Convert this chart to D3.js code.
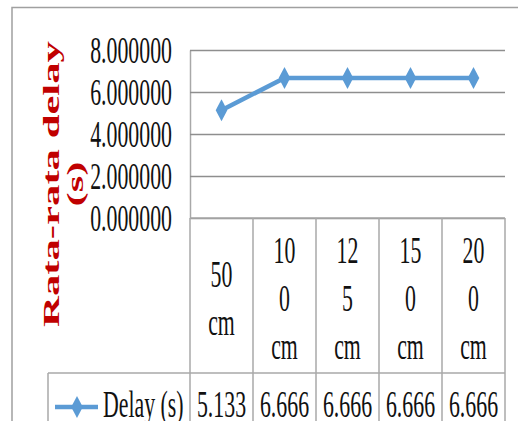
<!DOCTYPE html>
<html>
<head>
<meta charset="utf-8">
<script src="https://cdn.jsdelivr.net/npm/d3@7"></script>
<style>
  html, body { margin: 0; padding: 0; background: #fff; }
  svg { display: block; }
  text { font-family: "Liberation Serif", "Times New Roman", serif; }
</style>
</head>
<body>
<svg id="chart" width="518" height="421"></svg>
<script>
// Average delay per distance
const categories = ["50 cm", "100 cm", "125 cm", "150 cm", "200 cm"];
const categoryLines = [["50", "cm"], ["10", "0", "cm"], ["12", "5", "cm"], ["15", "0", "cm"], ["20", "0", "cm"]];
const delay = [5.133, 6.666, 6.666, 6.666, 6.666];
const tableValues = ["5.133", "6.666", "6.666", "6.666", "6.666"];
const yTicks = [0, 2, 4, 6, 8];
const seriesName = "Delay (s)";
const yTitle = ["Rata-rata delay", "(s)"];

const svg = d3.select("#chart");
const blue = "#5B9BD5";
const gridColor = "#8e8e8e";
const tableColor = "#a8a8a8";
const narrow = 0.59;   // horizontal squeeze of the serif labels

// compress text horizontally while keeping its height
function squeeze(sel, f) {
  sel.each(function () {
    const w = this.getComputedTextLength();
    d3.select(this).attr("textLength", w * f).attr("lengthAdjust", "spacingAndGlyphs");
  });
}

const plot = { left: 190, right: 505, top: 50, bottom: 218 };
const tableRow = 373;

const x = d3.scaleBand().domain(categories).range([plot.left, plot.right]);
const y = d3.scaleLinear().domain([0, 8]).range([plot.bottom, plot.top]);

// outer frame
svg.append("path")
  .attr("d", `M12,421 V7.5 H518`)
  .attr("fill", "none").attr("stroke", "#a0a0a0").attr("stroke-width", 1.5);

// value axis with gridlines
const yAxis = svg.append("g")
  .attr("transform", `translate(${plot.left},0)`)
  .call(d3.axisLeft(y).tickValues(yTicks).tickFormat(d3.format(".6f"))
    .tickSize(-(plot.right - plot.left)).tickSizeOuter(0).tickPadding(18));
yAxis.select(".domain").attr("stroke", tableColor).attr("stroke-width", 1.5);
yAxis.selectAll(".tick line").attr("stroke", gridColor).attr("stroke-width", 1.6);
yAxis.selectAll(".tick text")
  .attr("font-size", 37).attr("fill", "#111")
  .attr("dy", null).attr("y", 12);
squeeze(yAxis.selectAll(".tick text"), narrow);

// axis title
const title = svg.append("g").attr("fill", "#C00000")
  .attr("font-weight", "bold").attr("font-size", 24);
title.selectAll("text").data(yTitle).join("text")
  .attr("text-anchor", "middle")
  .attr("transform", (d, i) => `translate(${59 + i * 24},184) rotate(-90)`)
  .text(d => d)
  .call(squeeze, 1.78);

// data table grid
const grid = svg.append("g").attr("stroke", tableColor).attr("stroke-width", 1.5).attr("fill", "none");
const dividers = [plot.left].concat(categories.map(c => x(c) + x.bandwidth()));
grid.selectAll("line.v").data(dividers).join("line")
  .attr("x1", d => d).attr("x2", d => d)
  .attr("y1", plot.bottom).attr("y2", 421);
grid.append("line")
  .attr("x1", plot.left).attr("x2", plot.right)
  .attr("y1", plot.bottom).attr("y2", plot.bottom);
grid.append("line")
  .attr("x1", 48).attr("x2", plot.right)
  .attr("y1", tableRow).attr("y2", tableRow);
grid.append("line")
  .attr("x1", 48).attr("x2", 48)
  .attr("y1", tableRow).attr("y2", 421);

// category labels, wrapped inside the header cells
const cellMid = (plot.bottom + tableRow) / 2;
const lineH = 48;
categories.forEach((c, i) => {
  const lines = categoryLines[i];
  const n = lines.length;
  svg.append("g").selectAll("text").data(lines).join("text")
    .attr("x", x(c) + x.bandwidth() / 2)
    .attr("y", (d, j) => cellMid + (j - (n - 1) / 2) * lineH + 15)
    .attr("text-anchor", "middle").attr("font-size", 37).attr("fill", "#111")
    .text(d => d)
    .call(squeeze, narrow);
});

// values row
svg.append("g").selectAll("text").data(tableValues).join("text")
  .attr("x", (d, i) => x(categories[i]) + x.bandwidth() / 2)
  .attr("y", 417)
  .attr("text-anchor", "middle").attr("font-size", 37).attr("fill", "#111")
  .text(d => d)
  .call(squeeze, narrow);

// diamond marker
const diamond = (cx, cy) => `M${cx},${cy - 11}L${cx + 5.8},${cy}L${cx},${cy + 11}L${cx - 5.8},${cy}Z`;

// legend key
svg.append("line")
  .attr("x1", 55).attr("x2", 98).attr("y1", 407).attr("y2", 407)
  .attr("stroke", blue).attr("stroke-width", 4.5);
svg.append("path").attr("d", diamond(77, 407)).attr("fill", blue);
svg.append("text")
  .attr("x", 103).attr("y", 417)
  .attr("font-size", 37).attr("fill", "#111")
  .text(seriesName)
  .call(squeeze, narrow);

// series line
const pts = categories.map((c, i) => [x(c) + x.bandwidth() / 2, y(delay[i])]);
svg.append("path")
  .attr("d", d3.line()(pts))
  .attr("fill", "none").attr("stroke", blue).attr("stroke-width", 4.5)
  .attr("stroke-linejoin", "round");
svg.append("g").selectAll("path").data(pts).join("path")
  .attr("d", d => diamond(d[0], d[1]))
  .attr("fill", blue);
</script>
</body>
</html>
